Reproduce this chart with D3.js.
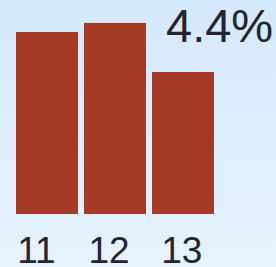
<!DOCTYPE html>
<html>
<head>
<meta charset="utf-8">
<script src="https://cdn.jsdelivr.net/npm/d3@7"></script>
<style>
  html, body { margin: 0; padding: 0; overflow: hidden; }
  text { font-family: "Liberation Sans", Arial, sans-serif; fill: #25252e; }
</style>
</head>
<body>
<div id="chart"></div>
<script>
// chart size
var width = 276,
    height = 267;

// data
var categories = ["11", "12", "13"];
var values = [5.64, 5.92, 4.4];
var headline = "4.4%";

var svg = d3.select("#chart").append("svg")
    .attr("width", width)
    .attr("height", height);

// soft blue background
var grad = svg.append("defs").append("linearGradient")
    .attr("id", "bg")
    .attr("x1", 0).attr("y1", 0)
    .attr("x2", 0).attr("y2", 1);
grad.append("stop").attr("offset", "0%").attr("stop-color", "#d5e9fc");
grad.append("stop").attr("offset", "100%").attr("stop-color", "#e7f3fe");

svg.append("rect")
    .attr("width", width)
    .attr("height", height)
    .attr("fill", "url(#bg)");

var x = d3.scaleBand()
    .domain(categories)
    .range([16, 214])
    .paddingInner(6 / 68);

// labels sit a bit off the bar centres
var xl = d3.scalePoint()
    .domain(categories)
    .range([36.4, 181.8]);

var y = d3.scaleLinear()
    .domain([0, 4.4 / 142 * 214])
    .range([214, 0]);

svg.selectAll(".bar")
    .data(values)
  .enter().append("rect")
    .attr("class", "bar")
    .attr("x", function(d, i) { return x(categories[i]); })
    .attr("y", function(d) { return y(d); })
    .attr("width", x.bandwidth())
    .attr("height", function(d) { return y(0) - y(d); })
    .attr("fill", "#a53a27");

svg.selectAll(".lbl")
    .data(categories)
  .enter().append("text")
    .attr("class", "lbl")
    .attr("x", function(d) { return xl(d); })
    .attr("y", 262.7)
    .attr("text-anchor", "middle")
    .style("font-size", "37px")
    .text(function(d) { return d; });

svg.append("text")
    .attr("x", 166)
    .attr("y", 41.7)
    .style("font-size", "47px")
    .text(headline);
</script>
</body>
</html>
